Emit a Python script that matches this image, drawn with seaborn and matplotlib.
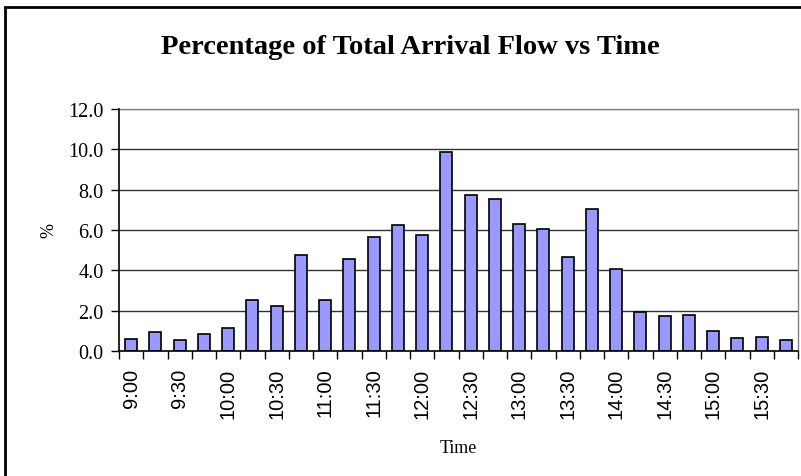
import matplotlib
matplotlib.use("Agg")
import matplotlib.pyplot as plt
from matplotlib.patches import Rectangle
from matplotlib.font_manager import FontProperties
from matplotlib.ticker import FixedLocator
import seaborn as sns
import pandas as pd

# 15-minute arrival intervals and share of total arrival flow (%)
times = ["9:00", "9:15", "9:30", "9:45", "10:00", "10:15", "10:30", "10:45",
         "11:00", "11:15", "11:30", "11:45", "12:00", "12:15", "12:30", "12:45",
         "13:00", "13:15", "13:30", "13:45", "14:00", "14:15", "14:30", "14:45",
         "15:00", "15:15", "15:30", "15:45"]
percent = [0.60, 0.93, 0.53, 0.84, 1.14, 2.53, 2.23, 4.78,
           2.55, 4.56, 5.64, 6.26, 5.75, 9.85, 7.75, 7.52,
           6.28, 6.05, 4.64, 7.06, 4.05, 1.93, 1.72, 1.79,
           1.01, 0.63, 0.71, 0.53]
y_ticks = [0.0, 2.0, 4.0, 6.0, 8.0, 10.0, 12.0]

df = pd.DataFrame({"Time": times, "Percent": percent})

sns.set_theme(style="white")
plt.rcParams["font.family"] = ["Liberation Serif", "DejaVu Serif"]
plt.rcParams["text.color"] = "black"
plt.rcParams["axes.labelcolor"] = "black"
plt.rcParams["xtick.color"] = "black"
plt.rcParams["ytick.color"] = "black"

sans = FontProperties(family=["Liberation Sans", "DejaVu Sans"], size=14.5)
serif = FontProperties(family=["Liberation Serif", "DejaVu Serif"], size=14.5)

W, H = 801, 477
fig = plt.figure(figsize=(W / 100, H / 100), dpi=100)
fig.patch.set_facecolor("white")

# outer chart frame (runs past the right and bottom edges)
fig.patches.append(Rectangle((5 / W, -0.1), 1.2, 1 - 8 / H + 0.1,
                             transform=fig.transFigure, fill=False,
                             edgecolor="black", linewidth=2, zorder=0))

ax = fig.add_axes([119 / W, 1 - 352 / H, (798 - 119) / W, (352 - 110) / H])
ax.set_facecolor("white")

sns.barplot(data=df, x="Time", y="Percent", color="#9999FF", saturation=1,
            edgecolor="black", linewidth=1.2, width=0.5, ax=ax, zorder=3)

ax.set_xlim(-0.5, len(times) - 0.5)
ax.set_ylim(0, 12)

# horizontal gridlines
for v in y_ticks[1:]:
    ax.axhline(v, color="#333333" if v < 12 else "#808080", linewidth=1, zorder=1)

# tick marks at category boundaries
ax.xaxis.set_minor_locator(FixedLocator([i - 0.5 for i in range(len(times) + 1)]))
ax.tick_params(axis="x", which="major", length=0, pad=12)
ax.tick_params(axis="x", which="minor", length=6, width=1, color="black",
               direction="out", bottom=True)
ax.tick_params(axis="y", which="major", length=6, width=1, color="black",
               direction="out", pad=5, left=True)

for side in ["top", "right"]:
    ax.spines[side].set_visible(True)
    ax.spines[side].set_color("#808080")
    ax.spines[side].set_linewidth(1)
for side in ["left", "bottom"]:
    ax.spines[side].set_color("black")
    ax.spines[side].set_linewidth(1.2)
    ax.spines[side].set_zorder(4)

ax.set_xlabel("Time", fontsize=13, labelpad=15, color="black")
ax.set_ylabel("%", fontsize=13, labelpad=8, color="black")

fig.text(410 / W, 1 - 47 / H, "Percentage of Total Arrival Flow vs Time",
         ha="center", va="center", fontsize=20.5, fontweight="bold",
         fontfamily="Liberation Serif", color="black")

# category labels every half hour, y values with one decimal
ax.set_xticks(list(range(0, len(times), 2)), labels=times[::2],
              fontproperties=sans, rotation=90, color="black")
ax.set_yticks(y_ticks, labels=[f"{v:.1f}" for v in y_ticks],
              fontproperties=serif, color="black")

fig.savefig("out.png", dpi=100)
